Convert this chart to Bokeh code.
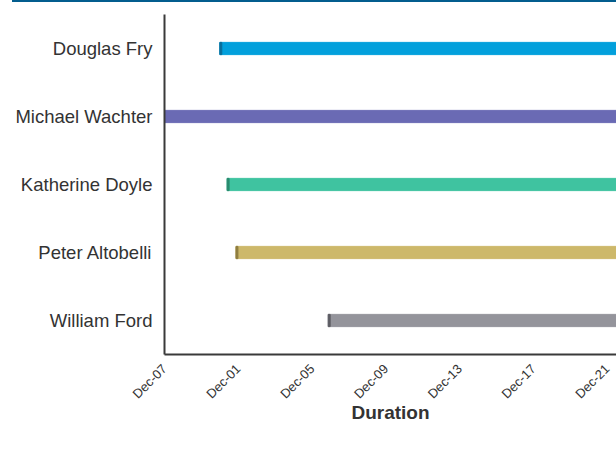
import math
import pandas as pd
from bokeh.plotting import figure
from bokeh.models import ColumnDataSource, FixedTicker, FactorRange, Range1d
from bokeh.embed import file_html
from bokeh.resources import INLINE

# ---- data ----
tasks = ["Douglas Fry", "Michael Wachter", "Katherine Doyle", "Peter Altobelli", "William Ford"]
starts = ["2023-11-30 00:00", "2023-11-26 00:00", "2023-11-30 09:30", "2023-11-30 21:00", "2023-12-05 21:00"]
ends = ["2023-12-26", "2023-12-28", "2023-12-25", "2023-12-27", "2023-12-24"]
colors = ["#02a0dc", "#6a6ab4", "#3fc3a0", "#cdb86a", "#94949b"]
edge_colors = ["#0a6e9a", "#4b4b8a", "#2a8a6e", "#8f7e40", "#5d5d63"]
tick_dates = ["2023-11-27", "2023-12-01", "2023-12-05", "2023-12-09", "2023-12-13", "2023-12-17", "2023-12-21"]
tick_labels = ["Dec-07", "Dec-01", "Dec-05", "Dec-09", "Dec-13", "Dec-17", "Dec-21"]
x_start = "2023-11-27 00:00"
x_end = "2023-12-21 12:00"

start_ts = pd.to_datetime(starts)
end_ts = pd.to_datetime(ends)
src = ColumnDataSource(dict(task=tasks, start=start_ts, end=end_ts, color=colors,
                            edge=edge_colors, edge_end=start_ts + pd.Timedelta(hours=2.5)))

p = figure(y_range=FactorRange(*reversed(tasks)), x_axis_type="datetime",
           x_range=Range1d(pd.Timestamp(x_start), pd.Timestamp(x_end)),
           width=604, height=442, output_backend="svg", toolbar_location=None)
p.styles = {"margin-left": "12px", "border-top": "2px solid #035d8e"}

p.hbar(y="task", left="start", right="end", height=0.18, color="color", source=src)
p.hbar(y="task", left="start", right="edge_end", height=0.18, color="edge", source=src)

p.min_border_left = 151
p.min_border_top = 12
p.min_border_right = 0
p.min_border_bottom = 90
p.outline_line_color = None
p.xgrid.visible = False
p.ygrid.visible = False
p.background_fill_color = "white"
p.border_fill_color = "white"

tick_ms = [pd.Timestamp(d).value / 1e6 for d in tick_dates]
p.xaxis.ticker = FixedTicker(ticks=tick_ms)
p.xaxis.major_label_overrides = {t: l for t, l in zip(tick_ms, tick_labels)}
p.xaxis.major_label_orientation = math.pi / 4
p.xaxis.major_label_text_font = "Liberation Sans"
p.xaxis.major_label_text_font_size = "13px"
p.xaxis.major_label_text_color = "#333333"
p.xaxis.major_label_standoff = 6
p.xaxis.axis_label = "Duration"
p.xaxis.axis_label_text_font = "Liberation Sans"
p.xaxis.axis_label_text_font_size = "19px"
p.xaxis.axis_label_text_font_style = "bold"
p.xaxis.axis_label_text_color = "#333333"
p.xaxis.axis_label_standoff = -8

for ax in (p.xaxis, p.yaxis):
    ax.axis_line_color = "#3a3a3a"
    ax.axis_line_width = 2
    ax.major_tick_line_color = None
    ax.minor_tick_line_color = None

p.yaxis.major_label_text_font = "Liberation Sans"
p.yaxis.major_label_text_font_size = "18.5px"
p.yaxis.major_label_text_color = "#333333"
p.yaxis.major_label_standoff = 6

open("out.html", "w").write(file_html(p, INLINE))
